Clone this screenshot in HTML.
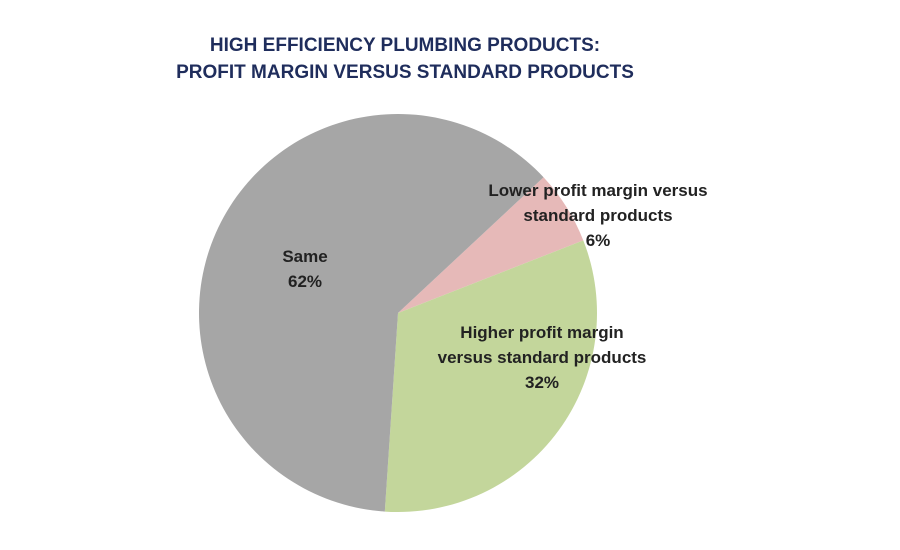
<!DOCTYPE html>
<html><head><meta charset="utf-8"><style>
body{margin:0;background:#fff;}
svg{display:block;font-family:"Liberation Sans",sans-serif;}
</style></head><body>
<svg width="900" height="550" viewBox="0 0 900 550">
<text x="405" y="51" text-anchor="middle" font-size="19" font-weight="bold" fill="#1f2d5c">HIGH EFFICIENCY PLUMBING PRODUCTS:</text>
<text x="405" y="78" text-anchor="middle" font-size="19" font-weight="bold" fill="#1f2d5c">PROFIT MARGIN VERSUS STANDARD PRODUCTS</text>
<g id="slices"></g>
<g id="labels" font-size="17" font-weight="bold" fill="#222" text-anchor="middle"></g>
</svg>
<script>
const categories=["Lower profit margin versus standard products","Higher profit margin versus standard products","Same"];
const values=[6,32,62];
const colors=["#e6b9b8","#c3d69b","#a6a6a6"];
const labelLines=[["Lower profit margin versus","standard products","6%"],["Higher profit margin","versus standard products","32%"],["Same","62%"]];
const labelPos=[[598,196],[542,338],[305,262]];
const cx=398,cy=313,r=199,startDeg=47;
const total=values.reduce((a,b)=>a+b,0);
const g=document.getElementById('slices'),lg=document.getElementById('labels');
const ns="http://www.w3.org/2000/svg";
function pt(deg){const a=deg*Math.PI/180;return [cx+r*Math.sin(a),cy-r*Math.cos(a)];}
let ang=startDeg;
values.forEach((v,i)=>{
  const sweep=v/total*360;
  const p1=pt(ang),p2=pt(ang+sweep);
  const path=document.createElementNS(ns,'path');
  path.setAttribute('d',`M${cx},${cy}L${p1[0]},${p1[1]}A${r},${r} 0 ${sweep>180?1:0} 1 ${p2[0]},${p2[1]}Z`);
  path.setAttribute('fill',colors[i]);
  
  
  g.appendChild(path);
  ang+=sweep;
  const t=document.createElementNS(ns,'text');
  
  
  labelLines[i].forEach((ln,j)=>{
    const s=document.createElementNS(ns,'tspan');
    s.setAttribute('x',labelPos[i][0]);
    s.setAttribute('y',labelPos[i][1]+j*25);
    s.textContent=ln;t.appendChild(s);
  });
  lg.appendChild(t);
});
</script>
</body></html>
